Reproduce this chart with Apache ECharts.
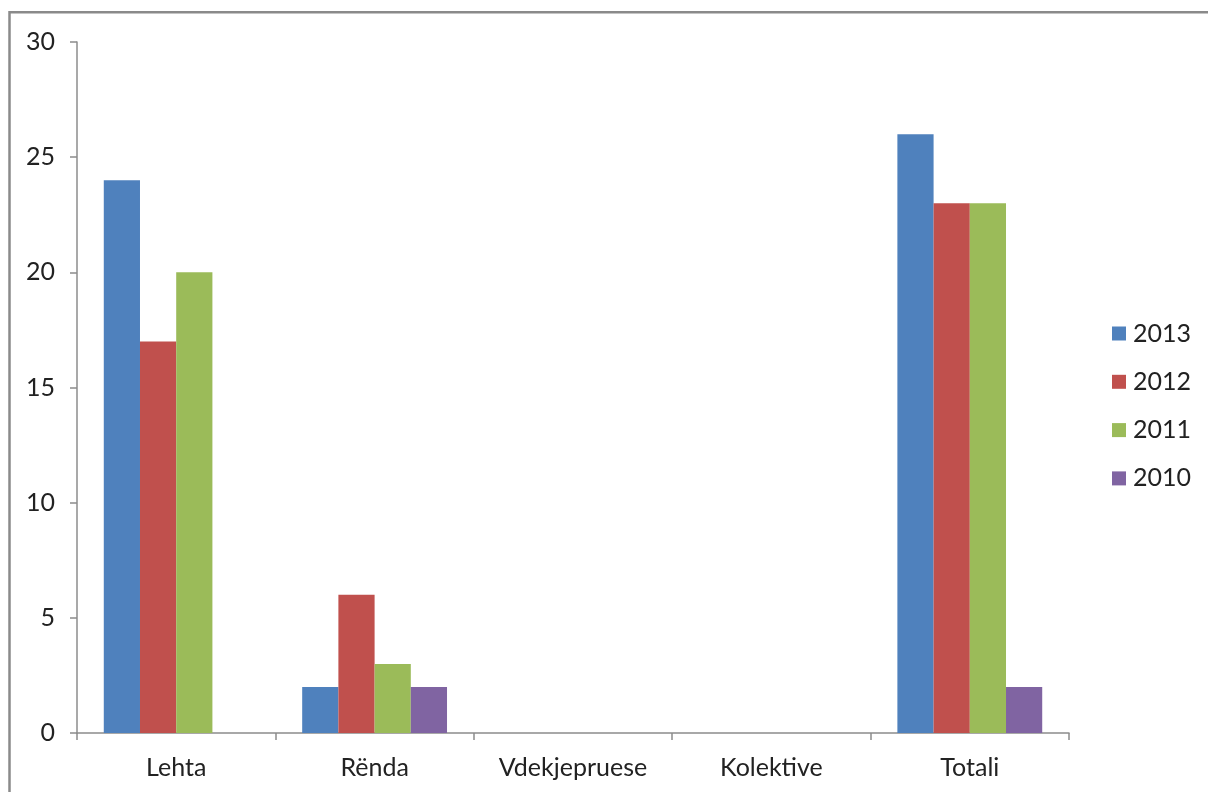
<!DOCTYPE html>
<html>
<head>
<meta charset="utf-8">
<script src="https://cdn.jsdelivr.net/npm/echarts@6/dist/echarts.min.js"></script>
<style>
html,body{margin:0;padding:0;background:#fff;}
#chart{width:1208px;height:792px;}
</style>
</head>
<body>
<div id="chart"></div>
<script>
// kategorite dhe vlerat
var categories = ["Lehta", "Rënda", "Vdekjepruese", "Kolektive", "Totali"];
var years = ["2013", "2012", "2011", "2010"];
var data2013 = [24, 2, 0, 0, 26];
var data2012 = [17, 6, 0, 0, 23];
var data2011 = [20, 3, 0, 0, 23];
var data2010 = [0, 2, 0, 0, 2];
var yTicks = { min: 0, max: 30, interval: 5 };

var colors = ["#4F81BD", "#C0504D", "#9BBB59", "#8064A2"];
var font = "Lato, 'Liberation Sans', sans-serif";
var axisColor = "#8c8c8c";

var seriesData = [data2013, data2012, data2011, data2010];
var series = [];
for (var i = 0; i < years.length; i++) {
	series.push({
		name: years[i],
		type: "bar",
		data: seriesData[i],
		barGap: "0%",
		barCategoryGap: "27%",
		itemStyle: { color: colors[i] }
	});
}

var myChart = echarts.init(document.getElementById("chart"));
var option = {
	animation: false,
	color: colors,
	grid: { left: 77, right: 139, top: 42, bottom: 59, containLabel: false },
	legend: {
		orient: "vertical",
		left: 1107,
		top: 316,
		itemWidth: 14,
		itemHeight: 14,
		itemGap: 23.3,
		icon: "rect",
		textStyle: { fontFamily: font, fontSize: 25, color: "#222", lineHeight: 25, padding: [0, 0, 0, 2] },
		data: years
	},
	xAxis: {
		type: "category",
		data: categories,
		axisLine: { lineStyle: { color: axisColor, width: 1.5 } },
		axisTick: { show: true, length: 7, lineStyle: { color: axisColor, width: 1.5 } },
		axisLabel: { fontFamily: font, fontSize: 25, color: "#222", margin: 22 }
	},
	yAxis: {
		type: "value",
		min: yTicks.min,
		max: yTicks.max,
		interval: yTicks.interval,
		splitLine: { show: false },
		axisLine: { show: true, lineStyle: { color: axisColor, width: 1.5 } },
		axisTick: { show: true, length: 7, lineStyle: { color: axisColor, width: 1.5 } },
		axisLabel: { fontFamily: font, fontSize: 25, color: "#222", margin: 22 }
	},
	graphic: [{
		type: "rect",
		silent: true,
		shape: { x: 9.5, y: 12.3, width: 1400, height: 1000 },
		style: { fill: null, stroke: "#8a8a8a", lineWidth: 2.5 }
	}],
	series: series
};
myChart.setOption(option);
</script>
</body>
</html>
